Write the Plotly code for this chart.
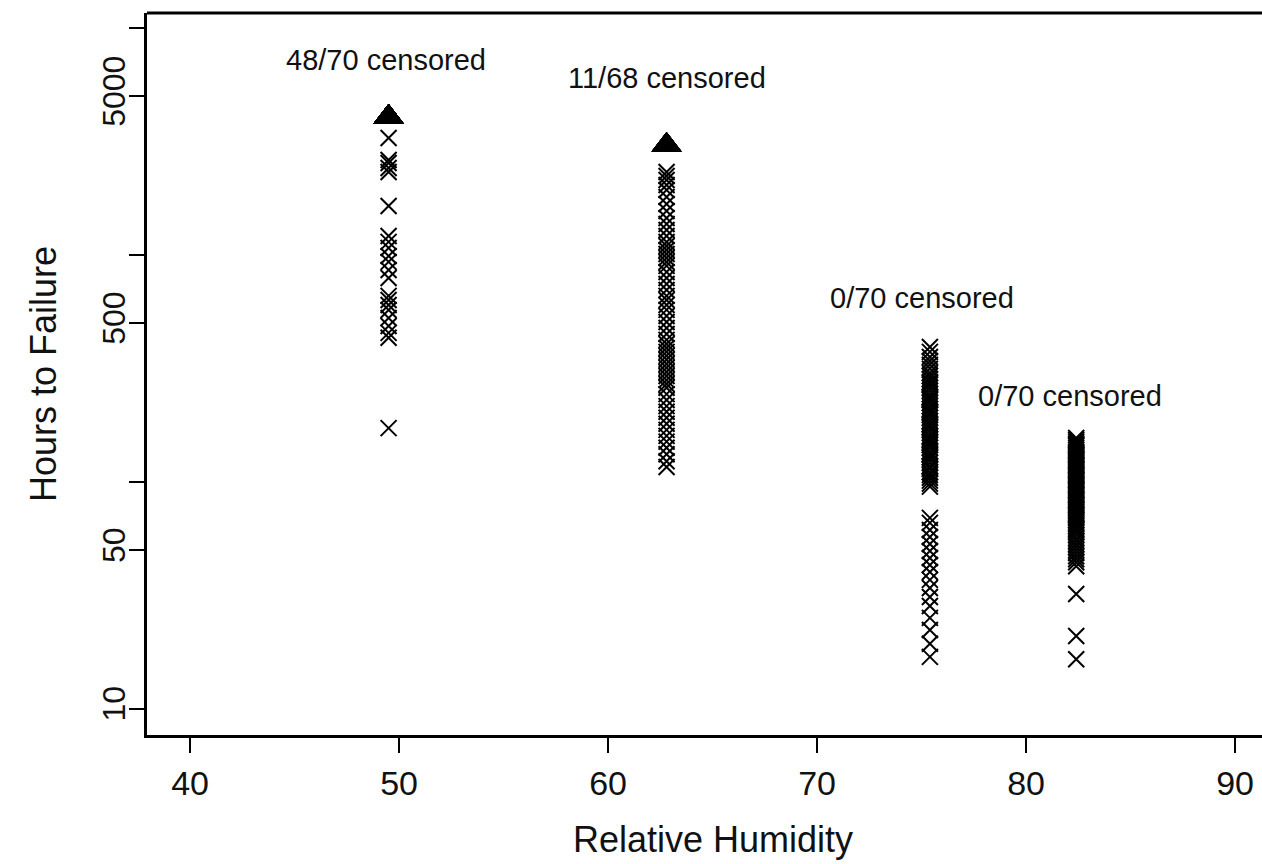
import plotly.graph_objects as go

# Relative humidity levels
rh_levels = [49.5, 62.8, 75.4, 82.4]

# Failure times (hours)
fail_495 = [3266, 2612, 2535, 2410, 2312, 1637, 1208, 1138, 1069, 986, 929,
            855, 789, 658, 631, 600, 570, 526, 485, 452, 430, 172]

fail_628 = [2313, 2221, 2133, 2027, 1927, 1795, 1672, 1557, 1451, 1365, 1284,
            1209, 1137, 1092, 1048, 1007, 967, 928, 892, 839, 789, 743, 699,
            658, 631, 600, 571, 537, 505, 475, 447, 421, 404, 388, 373, 358,
            344, 330, 317, 304, 292, 280, 269, 259, 243, 229, 215, 203, 191,
            180, 169, 159, 150, 141, 132, 123, 116]

fail_754 = [392, 373, 354, 340, 327, 314, 301, 292, 283, 275, 272, 267, 259,
            251, 243, 236, 231, 229, 222, 215, 209, 203, 201, 197, 191, 185,
            179, 178, 174, 169, 164, 159, 157, 154, 150, 148, 145, 141, 136,
            132, 131, 128, 125, 121, 117, 116, 114, 110, 107, 104, 101, 98, 95,
            69.2, 65.8, 61.2, 57.0, 53.1, 49.5, 46.1, 42.9, 40.0, 36.9, 34.0,
            31.0, 28.3, 25.1, 22.2, 19.3, 16.9]

fail_824 = [155.7, 152.6, 149.5, 146.5, 143.6, 140.7, 137.9, 135.1, 132.4,
            129.7, 127.1, 124.6, 122.1, 119.6, 117.2, 114.9, 112.6, 110.3,
            108.1, 105.9, 103.8, 101.7, 99.7, 97.7, 95.7, 93.8, 91.9, 90.1,
            88.3, 86.5, 84.8, 83.1, 81.4, 79.8, 78.2, 76.6, 75.1, 73.6, 72.1,
            70.7, 69.2, 67.8, 66.5, 65.1, 63.8, 62.6, 61.3,
            60.1, 58.3, 56.5, 54.9, 53.1, 51.5, 49.9, 48.4, 46.9, 45.5, 44.1,
            42.4, 145, 131, 118, 107, 96.7, 87.4, 79, 71.4, 32.0, 20.9, 16.5]

# Censored units (run-outs)
cens_rh = [49.5, 62.8]
cens_time = [4040, 3040]
cens_count = [48, 11]

# Annotation texts
ann_text = ["48/70 censored", "11/68 censored", "0/70 censored", "0/70 censored"]

# Axis ticks
x_ticks = [40, 50, 60, 70, 80, 90]
y_tickvals = [10, 50, 100, 500, 1000, 5000, 10000]
y_ticktext = ["10", "50", "", "500", "", "5000", ""]

FONT = "Liberation Sans, Arial, sans-serif"

fig = go.Figure()

all_fail = [fail_495, fail_628, fail_754, fail_824]
for rh, times in zip(rh_levels, all_fail):
    fig.add_trace(go.Scatter(
        x=[rh] * len(times), y=times, mode="markers",
        marker=dict(symbol="x-thin-open", size=16, color="black",
                    line=dict(color="black", width=2)),
        showlegend=False, hoverinfo="x+y"))

cx, cy = [], []
for rh, t, n in zip(cens_rh, cens_time, cens_count):
    cx += [rh] * n
    cy += [t] * n
fig.add_trace(go.Scatter(
    x=cx, y=cy, mode="markers",
    marker=dict(symbol="triangle-up", size=26, color="black"),
    showlegend=False, hoverinfo="x+y"))

# annotation placements (x in data units, y in log10 units)
ann_pos = [(49.38, 3.858), (62.82, 3.778), (75.02, 2.809), (82.11, 2.377)]
for (ax, ay), txt in zip(ann_pos, ann_text):
    fig.add_annotation(x=ax, y=ay, xref="x", yref="y", text=txt,
                       showarrow=False, xanchor="center", yanchor="middle",
                       font=dict(family=FONT, size=29, color="#111"))

# axis titles
fig.add_annotation(x=0.5076, y=-0.1454, xref="paper", yref="paper",
                   text="Relative Humidity", showarrow=False,
                   xanchor="center", yanchor="middle",
                   font=dict(family=FONT, size=36, color="#111"))
fig.add_annotation(x=-0.0933, y=0.5, xref="paper", yref="paper",
                   text="Hours to Failure", showarrow=False, textangle=-90,
                   xanchor="center", yanchor="middle",
                   font=dict(family=FONT, size=36, color="#111"))

# top frame line
fig.add_shape(type="line", xref="paper", yref="paper", x0=0, x1=1, y0=1, y1=1,
              line=dict(color="black", width=3))

fig.update_layout(
    width=1262, height=864,
    margin=dict(l=147, r=0, t=13, b=129),
    paper_bgcolor="white", plot_bgcolor="white",
    font=dict(family=FONT, color="#111"),
    xaxis=dict(range=[37.94, 91.29], tickvals=x_ticks,
               ticktext=[str(v) for v in x_ticks],
               showgrid=False, zeroline=False,
               showline=True, linecolor="black", linewidth=3,
               ticks="outside", ticklen=15, tickwidth=2, tickcolor="black",
               ticklabelstandoff=1,
               tickfont=dict(family=FONT, size=34, color="#111")),
    yaxis=dict(type="log", range=[0.8836, 4.0646], tickvals=y_tickvals,
               ticktext=y_ticktext, tickangle=-90,
               showgrid=False, zeroline=False,
               showline=True, linecolor="black", linewidth=3,
               ticks="outside", ticklen=15, tickwidth=2, tickcolor="black",
               ticklabelstandoff=-9,
               tickfont=dict(family=FONT, size=32, color="#111")),
)

fig.write_html("out.html")
